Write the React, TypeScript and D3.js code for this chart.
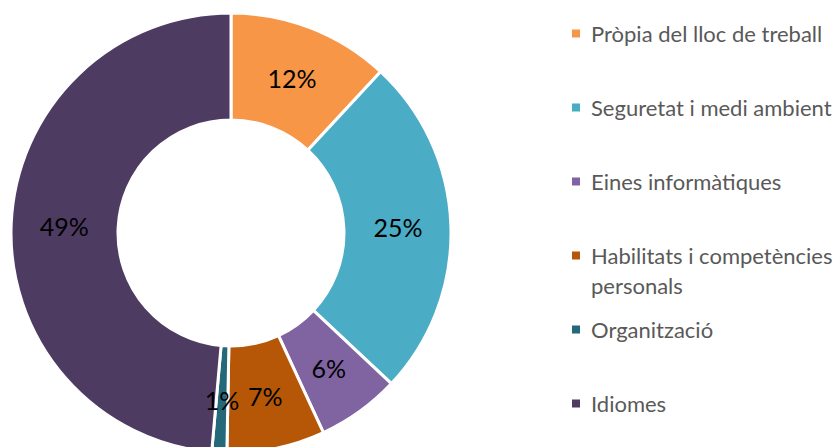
import React from "react";
import * as d3 from "d3";

const categories = [
  "Pròpia del lloc de treball",
  "Seguretat i medi ambient",
  "Eines informàtiques",
  "Habilitats i competències\npersonals",
  "Organització",
  "Idiomes",
];
const values = [11.9, 25.1, 6.1, 7.2, 1.1, 48.6];
const colors = ["#F79646", "#4BACC6", "#8064A2", "#B65708", "#23697A", "#4E3B62"];

const W = 840;
const H = 447;
const cx = 231;
const cy = 233;
const outerR = 220;
const innerR = 113;
const labelR = 167;

export default function App() {
  const data = values.map((v, i) => ({ v, i }));
  const pie = d3
    .pie<{ v: number; i: number }>()
    .sort(null)
    .value((d) => d.v)
    .startAngle(0)
    .endAngle(2 * Math.PI);
  const arcs = pie(data);
  const arc = d3.arc<d3.PieArcDatum<{ v: number; i: number }>>().innerRadius(innerR).outerRadius(outerR);
  const labelArc = d3.arc<d3.PieArcDatum<{ v: number; i: number }>>().innerRadius(labelR).outerRadius(labelR);
  const legendY = d3.scalePoint<number>().domain(categories.map((_, i) => i)).range([33.5, 403.5]);
  const fmt = (v: number) => `${Math.round(v)}%`;

  return (
    <svg
      width={W}
      height={H}
      style={{ position: "absolute", left: 0, top: 0, background: "#fff" }}
      fontFamily="Lato, 'Liberation Sans', sans-serif"
    >
      <g transform={`translate(${cx},${cy})`}>
        {arcs.map((a) => (
          <path key={a.index} d={arc(a) || ""} fill={colors[a.data.i]} stroke="#fff" strokeWidth={3} />
        ))}
        {arcs.map((a) => {
          const [x, y] = labelArc.centroid(a);
          return (
            <text
              key={"l" + a.index}
              x={x}
              y={y}
              textAnchor="middle"
              dominantBaseline="central"
              fontSize={25}
              fill="#000"
            >
              {fmt(a.data.v)}
            </text>
          );
        })}
      </g>
      <g>
        {categories.map((c, i) => {
          const y = legendY(i) as number;
          const lines = c.split("\n");
          return (
            <g key={"lg" + i}>
              <rect x={572} y={y - 4} width={8} height={8} fill={colors[i]} />
              {lines.map((ln, j) => (
                <text
                  key={j}
                  x={591}
                  y={y + j * 30}
                  dominantBaseline="central"
                  fontSize={22}
                  fill="#595959"
                >
                  {ln}
                </text>
              ))}
            </g>
          );
        })}
      </g>
    </svg>
  );
}
